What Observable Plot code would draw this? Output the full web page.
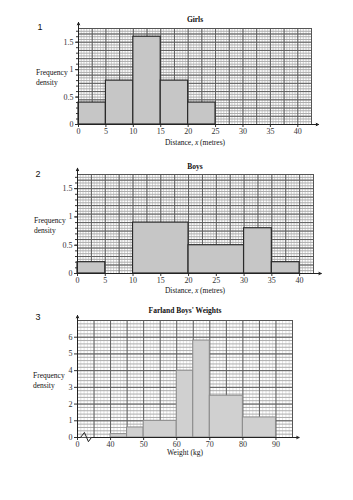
<!DOCTYPE html>
<html><head><meta charset="utf-8">
<script src="https://cdn.jsdelivr.net/npm/d3@7"></script>
<script src="https://cdn.jsdelivr.net/npm/@observablehq/plot@0.6"></script>
<style>
body{margin:0;background:#fff;}
#page{position:relative;width:353px;height:500px;overflow:hidden;font-family:"Liberation Serif",serif;background:#fff;}
#page svg{position:absolute;left:0;}
.t{position:absolute;white-space:nowrap;font-size:7.5px;color:#111;line-height:9.5px;}
.c{transform:translate(-50%,-50%);}
.b{font-weight:bold;}
.n{font-family:"Liberation Sans",sans-serif;font-size:9px;}
</style></head><body><div id="page"></div>
<script>
// ---- data ----
const girlsStart = [0, 5, 10, 15, 20];
const girlsEnd = [5, 10, 15, 20, 25];
const girlsDensity = [0.4, 0.8, 1.6, 0.8, 0.4];

const boysStart = [0, 10, 20, 30, 35];
const boysEnd = [5, 20, 30, 35, 40];
const boysDensity = [0.2, 0.9, 0.5, 0.8, 0.2];

const weightStart = [40, 45, 50, 60, 65, 70, 80];
const weightEnd = [45, 50, 60, 65, 70, 80, 90];
const weightDensity = [0.2, 0.6, 1.0, 4.0, 5.8, 2.5, 1.2];

const distanceTicks = [0, 5, 10, 15, 20, 25, 30, 35, 40];
const distanceDensityTicks = [0, 0.5, 1, 1.5];
const weightTicks = [30, 40, 50, 60, 70, 80, 90];
const weightTickLabels = ["0", "40", "50", "60", "70", "80", "90"];
const weightDensityTicks = [0, 1, 2, 3, 4, 5, 6];
const breakX = [30, 30.9, 32.1, 33.3, 34.2, 35];
const breakY = [0, 0, 0.3, -0.25, 0, 0];

const page = document.getElementById("page");

function addText(txt, x, y, cls) {
  const d = document.createElement("div");
  d.className = "t " + (cls || "");
  d.style.left = x + "px"; d.style.top = y + "px";
  d.innerHTML = txt;
  page.appendChild(d);
}

function hist(cfg) {
  const idx = d3.range(cfg.start.length);
  const [x0, x1] = cfg.xDomain, [y0, y1] = cfg.yDomain;
  const marks = [
    Plot.ruleX(cfg.xMinor, {stroke: cfg.xMinorColor, strokeWidth: 1}),
    Plot.ruleY(cfg.yMinor, {stroke: "#ababab", strokeWidth: 1}),
    Plot.ruleX(cfg.xMajor, {stroke: "#5e5e5e", strokeWidth: 1}),
    Plot.ruleY(cfg.yMajor, {stroke: "#5e5e5e", strokeWidth: 1}),
    Plot.frame({stroke: "#555"}),
    Plot.rect(idx, {x1: i => cfg.start[i], x2: i => cfg.end[i], y1: 0, y2: i => cfg.dens[i],
      fill: cfg.fill, stroke: cfg.barStroke, strokeWidth: cfg.barWidth}),
    Plot.axisX(cfg.xTicks, {tickSize: 3, tickPadding: 1, fontSize: 8, label: null,
      tickFormat: cfg.xFormat, stroke: "#333", fill: "#333"}),
    Plot.axisY(cfg.yTicks, {tickSize: 3, tickPadding: 2, fontSize: 8, label: null,
      tickFormat: d => String(d), stroke: "#333", fill: "#333"}),
    Plot.arrow([0], {x1: cfg.yAxisX, y1: y0, x2: cfg.yAxisX, y2: cfg.yTip, stroke: "#222",
      strokeWidth: 1, headLength: 4, headAngle: 50}),
    Plot.arrow([0], {x1: cfg.xAxisStart, y1: 0, x2: cfg.xTip, y2: 0, stroke: "#222",
      strokeWidth: 1, headLength: 4, headAngle: 50})
  ];
  if (cfg.yMinorTicks) marks.push(Plot.axisY(cfg.yMinorTicks, {tickSize: 2, label: null, text: null, stroke: "#333"}));
  if (cfg.breakX) marks.push(Plot.line(cfg.breakX.map((v, i) => [v, cfg.breakY[i]]), {x: d => d[0], y: d => d[1], stroke: "#222", strokeWidth: 1}));
  const svg = Plot.plot({
    width: 353, height: cfg.height,
    marginLeft: cfg.ml, marginRight: cfg.mr, marginTop: cfg.mt, marginBottom: cfg.mb,
    style: {fontFamily: "Liberation Serif, serif", fontSize: "8px", background: "transparent", overflow: "visible", color: "#222"},
    x: {domain: cfg.xDomain}, y: {domain: cfg.yDomain},
    marks
  });
  svg.style.top = cfg.top + "px";
  page.appendChild(svg);
}

// Chart 1 – Girls
hist({
  top: 0, height: 150, ml: 78, mr: 42, mt: 28, mb: 26,
  xDomain: [0, 42.5], yDomain: [0, 1.75],
  start: girlsStart, end: girlsEnd, dens: girlsDensity,
  xMinor: d3.range(0, 42.51, 0.5), yMinor: d3.range(0, 1.751, 0.05), xMinorColor: "#cfcfcf",
  xMajor: d3.range(2.5, 42.51, 2.5), yMajor: d3.range(0, 1.751, 0.15),
  xTicks: distanceTicks, yTicks: distanceDensityTicks, yMinorTicks: d3.range(0, 1.75, 0.1),
  fill: "#c6c6c6", barStroke: "#2a2a2a", barWidth: 1.2,
  yAxisX: 0, yTip: 1.86, xAxisStart: 0, xTip: 43.8
});
addText("1", 40, 28, "c n");
addText("Girls", 195, 20, "c b");
addText("Frequency<br>density", 36, 68, "");
addText("Distance, <i>x</i> (metres)", 195, 143, "c");

// Chart 2 – Boys
hist({
  top: 150, height: 150, ml: 77, mr: 40, mt: 24, mb: 27,
  xDomain: [0, 42.5], yDomain: [0, 1.75],
  start: boysStart, end: boysEnd, dens: boysDensity,
  xMinor: d3.range(0, 42.51, 0.5), yMinor: d3.range(0, 1.751, 0.05), xMinorColor: "#cfcfcf",
  xMajor: d3.range(2.5, 42.51, 2.5), yMajor: d3.range(0, 1.751, 0.15),
  xTicks: distanceTicks, yTicks: distanceDensityTicks, yMinorTicks: d3.range(0, 1.75, 0.1),
  fill: "#c6c6c6", barStroke: "#2a2a2a", barWidth: 1.2,
  yAxisX: 0, yTip: 1.86, xAxisStart: 0, xTip: 43.9
});
addText("2", 38, 175, "c n");
addText("Boys", 195, 167, "c b");
addText("Frequency<br>density", 34, 216, "");
addText("Distance, <i>x</i> (metres)", 195, 291, "c");

// Chart 3 – Farland Boys' Weights
hist({
  top: 300, height: 160, ml: 77, mr: 61, mt: 20, mb: 23,
  xDomain: [30, 95], yDomain: [0, 7],
  start: weightStart, end: weightEnd, dens: weightDensity,
  xMinor: d3.range(30, 95.01, 1), yMinor: d3.range(0, 7.01, 0.2), xMinorColor: "#e2e2e2",
  xMajor: d3.range(30, 95.01, 5), yMajor: d3.range(0, 7.01, 1),
  xTicks: weightTicks, xFormat: (d, i) => weightTickLabels[i], yTicks: weightDensityTicks,
  fill: "#d0d0d0", barStroke: "#8a8a8a", barWidth: 1,
  yAxisX: 30, yTip: 7.3, xAxisStart: 35, xTip: 97,
  breakX, breakY
});
addText("3", 38, 318, "c n");
addText("Farland Boys' Weights", 185, 311, "c b");
addText("Frequency<br>density", 33, 371, "");
addText("Weight (kg)", 185, 453, "c");
</script></body></html>
